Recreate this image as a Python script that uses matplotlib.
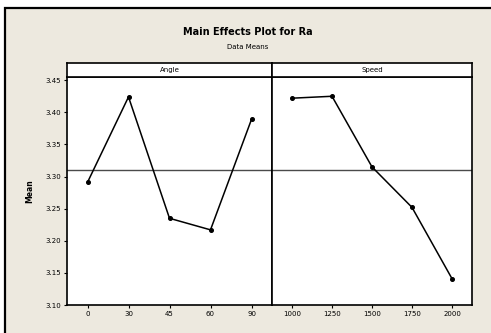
import matplotlib
matplotlib.use("Agg")
import matplotlib.pyplot as plt
from matplotlib.patches import Rectangle

angle_labels = ["0", "30", "45", "60", "90"]
angle_means = [3.291, 3.424, 3.235, 3.217, 3.389]
speed_labels = ["1000", "1250", "1500", "1750", "2000"]
speed_means = [3.422, 3.425, 3.315, 3.252, 3.141]
grand_mean = 3.310
y_ticks = [3.10, 3.15, 3.20, 3.25, 3.30, 3.35, 3.40, 3.45]
panel_names = ["Angle", "Speed"]

W, H = 491, 333
fig = plt.figure(figsize=(W / 100, H / 100), dpi=100)
fig.patch.set_facecolor("white")
bg = "#EDE9DF"
bax = fig.add_axes([0, 0, 1, 1], zorder=-10)
bax.set_xlim(0, W)
bax.set_ylim(H, 0)
bax.axis("off")
bax.add_patch(Rectangle((5, 8), W + 20, H + 20, facecolor=bg,
                        edgecolor="black", linewidth=1.6))

fig.text(248 / W, 1 - 32 / H, "Main Effects Plot for Ra", ha="center", va="center",
         fontsize=7, fontweight="bold")
fig.text(248 / W, 1 - 47 / H, "Data Means", ha="center", va="center", fontsize=5)

ax_left, ax_right = 67, 472
mid = 272
top_strip, strip_bot, ax_bot = 63, 77, 305
panels = [(ax_left, mid), (mid, ax_right)]
data = [(angle_labels, angle_means), (speed_labels, speed_means)]

for i, ((x0, x1), (labels, means)) in enumerate(zip(panels, data)):
    ax = fig.add_axes([x0 / W, 1 - ax_bot / H, (x1 - x0) / W, (ax_bot - strip_bot) / H])
    ax.set_facecolor("white")
    xs = list(range(len(labels)))
    ax.plot(xs, means, color="black", linewidth=1.1, marker="o", markersize=2.6,
            zorder=3)
    ax.axhline(grand_mean, color="#4a4a4a", linewidth=1.0, zorder=2)
    ax.set_xlim(-0.5, 4.5)
    ax.set_ylim(3.10, 3.455)
    ax.set_xticks(xs)
    ax.set_xticklabels(labels, fontsize=5)
    ax.tick_params(axis="both", direction="out", length=2.5, width=0.8, pad=2)
    for s in ax.spines.values():
        s.set_linewidth(1.2)
    if i == 0:
        ax.set_yticks(y_ticks)
        ax.set_yticklabels([f"{v:.2f}" for v in y_ticks], fontsize=5)
        ax.set_ylabel("Mean", fontsize=5.5, fontweight="bold", labelpad=8)
    else:
        ax.set_yticks([])
    sax = fig.add_axes([x0 / W, 1 - strip_bot / H, (x1 - x0) / W, (strip_bot - top_strip) / H])
    sax.set_facecolor("white")
    sax.set_xticks([])
    sax.set_yticks([])
    for s in sax.spines.values():
        s.set_linewidth(1.2)
    sax.text(0.5, 0.5, panel_names[i], ha="center", va="center", fontsize=5,
             transform=sax.transAxes)

fig.savefig("out.png", dpi=100, facecolor=fig.get_facecolor())
